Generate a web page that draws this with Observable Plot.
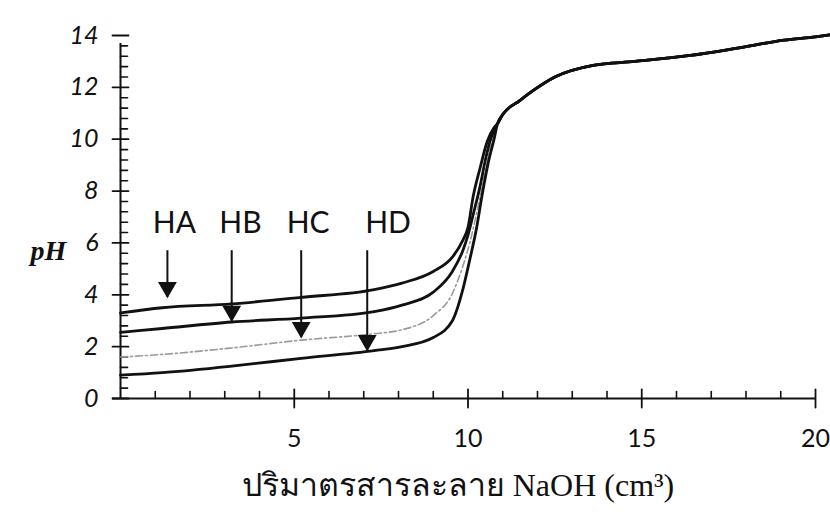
<!DOCTYPE html>
<html><head><meta charset="utf-8">
<script src="https://cdn.jsdelivr.net/npm/d3@7"></script>
<script src="https://cdn.jsdelivr.net/npm/@observablehq/plot@0.6"></script>
<style>body{margin:0;background:#fff;} #chart svg{display:block;}</style>
</head><body><div id="chart"></div>
<script>
// ---- data ----
const haX  = [0, 1.2, 3.2, 5.2, 7.3, 8.1, 9.0, 9.55, 9.85, 10.0, 10.15, 10.35, 10.55, 10.75, 10.85];
const haPH = [3.3, 3.5, 3.65, 3.9, 4.2, 4.45, 4.9, 5.45, 6.1, 6.6, 7.8, 8.9, 9.9, 10.45, 10.6];
const hbX  = [0, 1.2, 3.2, 5.2, 7.3, 8.1, 9.0, 9.55, 9.85, 10.0, 10.15, 10.35, 10.5, 10.65, 10.85];
const hbPH = [2.55, 2.7, 2.95, 3.1, 3.35, 3.6, 4.1, 4.9, 5.7, 6.3, 7.1, 8.2, 9.2, 10.0, 10.6];
const hcX  = [0, 1.2, 3.2, 5.2, 7.3, 8.1, 9.0, 9.55, 9.85, 10.05, 10.2, 10.4, 10.6, 10.85];
const hcPH = [1.6, 1.7, 1.95, 2.25, 2.5, 2.65, 3.2, 4.05, 5.1, 6.0, 6.85, 8.1, 9.4, 10.6];
const hdX  = [0, 1.2, 3.2, 5.2, 7.3, 8.1, 9.0, 9.55, 9.85, 10.05, 10.25, 10.4, 10.6, 10.75, 10.85];
const hdPH = [0.9, 1.0, 1.25, 1.55, 1.85, 2.0, 2.35, 3.0, 4.2, 5.35, 6.6, 7.8, 9.2, 10.0, 10.6];
// shared part after the equivalence point
const commonX  = [10.85, 11.0, 11.5, 11.9, 12.5, 13.6, 14.8, 16.4, 17.7, 19.1, 20.0, 20.4];
const commonPH = [10.6, 10.95, 11.5, 11.9, 12.4, 12.85, 13.0, 13.23, 13.5, 13.82, 13.95, 14.02];

const acidNames = ["HA", "HB", "HC", "HD"];
const labelX    = [1.55, 3.45, 5.4, 7.7];
const labelPH   = [6.75, 6.75, 6.75, 6.75];
const arrowX    = [1.35, 3.2, 5.2, 7.1];
const arrowTop  = [5.7, 5.7, 5.7, 5.7];
const arrowTip  = [3.9, 2.98, 2.35, 1.85];

const yTickValues = [0, 2, 4, 6, 8, 10, 12, 14];
const xTickValues = [5, 10, 15, 20];
const xMinor = d3.range(1, 20).filter(v => v % 5 !== 0);
const yMinor = d3.range(1, 35).filter(i => i % 5 !== 0).map(i => i * 0.4);

const xTitle = "ปริมาตรสารละลาย NaOH (cm³)";
const yTitle = "pH";

// ---- build rows ----
function rows(name, xs, ys) {
  return xs.map((x, i) => ({name, x, y: ys[i]})).concat(commonX.map((x, i) => ({name, x, y: commonPH[i]})));
}
const blackRows = [...rows("HA", haX, haPH), ...rows("HB", hbX, hbPH), ...rows("HD", hdX, hdPH)];
const grayRows = rows("HC", hcX, hcPH);
const labels = acidNames.map((n, i) => ({n, x: labelX[i], y: labelPH[i]}));
const arrows = acidNames.map((n, i) => ({n, x: arrowX[i], y1: arrowTop[i], y2: arrowTip[i]}));

const tickShape = {draw(ctx, l) { ctx.moveTo(0, 0); ctx.lineTo(0, -l); }};
const sans = "Lato, 'Open Sans', sans-serif";
const serif = "'Liberation Serif', 'DejaVu Serif', serif";

const chart = Plot.plot({
  width: 830,
  height: 525,
  marginLeft: 120,
  marginRight: 15,
  marginTop: 35,
  marginBottom: 127,
  x: {domain: [0, 20], axis: null},
  y: {domain: [0, 14], axis: null},
  marks: [
    // axes lines
    Plot.ruleX([0], {y1: 0, y2: 14, insetBottom: -8, stroke: "#111", strokeWidth: 2}),
    Plot.ruleY([0], {x1: 0, x2: 20, insetLeft: -8, stroke: "#111", strokeWidth: 2}),
    // y ticks
    Plot.vector(yMinor, {x: 0, y: d => d, length: 7, rotate: 90, anchor: "start", shape: tickShape, stroke: "#111", strokeWidth: 1.6}),
    Plot.vector(yTickValues, {x: 0, y: d => d, length: 16, rotate: 90, anchor: "middle", shape: tickShape, stroke: "#111", strokeWidth: 1.8}),
    // x ticks
    Plot.vector(xMinor, {x: d => d, y: 0, length: 7, rotate: 0, anchor: "start", shape: tickShape, stroke: "#111", strokeWidth: 1.6}),
    Plot.vector(xTickValues, {x: d => d, y: 0, length: 18, rotate: 0, anchor: "middle", shape: tickShape, stroke: "#111", strokeWidth: 1.8}),
    // tick labels
    Plot.text(yTickValues, {x: 0, y: d => d, text: d => String(d), dx: -22, textAnchor: "end", fontSize: 25, fontStyle: "italic", fontFamily: sans, fill: "#111"}),
    Plot.text(xTickValues, {x: d => d, y: 0, text: d => String(d), dy: 40, fontSize: 25, fontFamily: sans, fill: "#111"}),
    // curves
    Plot.line(grayRows, {x: "x", y: "y", z: "name", curve: "monotone-x", stroke: "#9a9a9a", strokeWidth: 1.6, strokeDasharray: "7,3,2,3"}),
    Plot.line(blackRows, {x: "x", y: "y", z: "name", curve: "monotone-x", stroke: "#111", strokeWidth: 2.8}),
    // arrows
    Plot.ruleX(arrows, {x: "x", y1: "y1", y2: "y2", stroke: "#111", strokeWidth: 2}),
    Plot.dot(arrows, {x: "x", y: "y2", symbol: "triangle", r: 7, rotate: 180, dy: -10, fill: "#111", stroke: "none"}),
    // labels
    Plot.text(labels, {x: "x", y: "y", text: "n", fontSize: 30, fontFamily: sans, fill: "#111"}),
    // axis titles
    Plot.text([yTitle], {frameAnchor: "left", dx: -90, dy: 34, textAnchor: "start", fontSize: 28, fontWeight: "bold", fontStyle: "italic", fontFamily: serif, fill: "#111"}),
    Plot.text([xTitle], {frameAnchor: "bottom", dx: -10, dy: 97, fontSize: 32, fontFamily: serif, fill: "#111"})
  ]
});
document.getElementById("chart").appendChild(chart);
</script>
</body></html>
